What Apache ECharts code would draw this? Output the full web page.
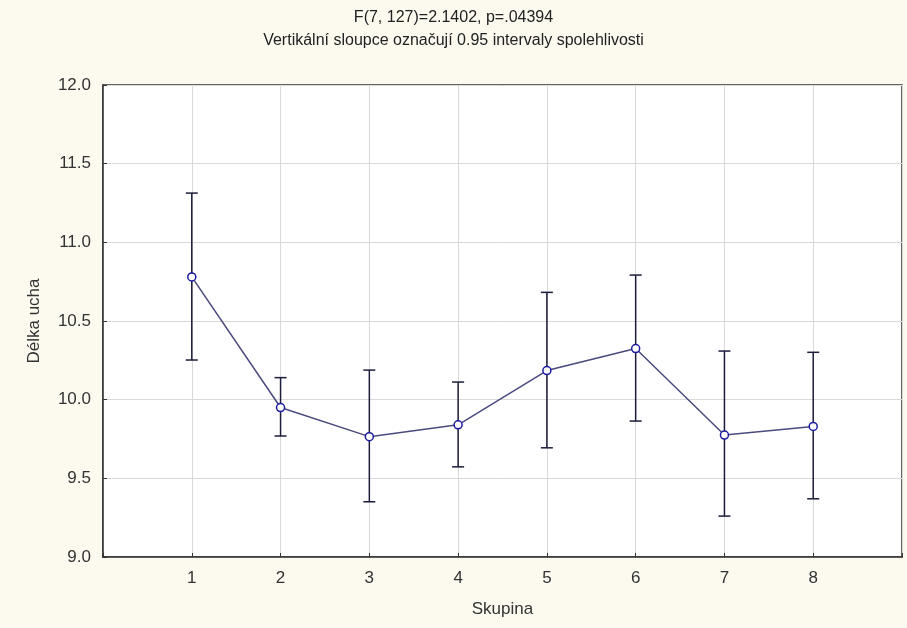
<!DOCTYPE html>
<html><head><meta charset="utf-8">
<script src="https://cdn.jsdelivr.net/npm/echarts@6/dist/echarts.min.js"></script>
<style>html,body{margin:0;padding:0;background:#fcf9ef}#c{width:907px;height:628px}</style>
</head><body><div id="c"></div>
<script>
const groups = [1, 2, 3, 4, 5, 6, 7, 8];
const means = [10.78, 9.95, 9.765, 9.84, 10.185, 10.325, 9.775, 9.83];
const upper = [11.313, 10.14, 10.188, 10.112, 10.682, 10.792, 10.309, 10.301];
const lower = [10.252, 9.769, 9.351, 9.573, 9.694, 9.864, 9.26, 9.37];
const yTicks = [9.0, 9.5, 10.0, 10.5, 11.0, 11.5, 12.0];

const chart = echarts.init(document.getElementById('c'));
const font = 'Liberation Sans, Arial, sans-serif';
chart.setOption({
  backgroundColor: '#fcf9ef',
  animation: false,
  title: [
    {text: 'F(7, 127)=2.1402, p=.04394', left: 'center', top: 5,
     textStyle: {fontFamily: font, fontSize: 16, fontWeight: 'normal', color: '#222'}},
    {text: 'Vertikální sloupce označují 0.95 intervaly spolehlivosti', left: 'center', top: 28,
     textStyle: {fontFamily: font, fontSize: 16, fontWeight: 'normal', color: '#222'}}
  ],
  grid: {left: 103, right: 5, top: 85, bottom: 71, show: true, backgroundColor: '#ffffff',
         borderColor: '#333', borderWidth: 1.5},
  xAxis: {
    type: 'value', min: 0, max: groups.length + 1, interval: 1,
    name: 'Skupina', nameLocation: 'middle', nameGap: 44,
    nameTextStyle: {fontFamily: font, fontSize: 17, color: '#333'},
    axisLine: {show: true, lineStyle: {color: '#333', width: 1.5}},
    axisTick: {show: true, inside: true, length: 4, lineStyle: {color: '#333'}},
    axisLabel: {fontFamily: font, fontSize: 17, color: '#333', margin: 13,
      formatter: v => groups.includes(v) ? String(v) : ''},
    splitLine: {show: true, lineStyle: {color: '#d9d9d9'}}
  },
  yAxis: {
    type: 'value', min: yTicks[0], max: yTicks[yTicks.length - 1], interval: 0.5,
    name: 'Délka ucha', nameLocation: 'middle', nameGap: 60,
    nameTextStyle: {fontFamily: font, fontSize: 17, color: '#333'},
    axisLine: {show: true, lineStyle: {color: '#333', width: 1.5}},
    axisTick: {show: true, inside: true, length: 4, lineStyle: {color: '#333'}},
    axisLabel: {fontFamily: font, fontSize: 17, color: '#333', margin: 12,
      formatter: v => v.toFixed(1)},
    splitLine: {show: true, lineStyle: {color: '#d9d9d9'}}
  },
  series: [
    {
      type: 'custom', z: 3,
      data: groups.map((g, i) => [g, lower[i], upper[i]]),
      renderItem: function (params, api) {
        const x = api.value(0);
        const lo = api.coord([x, api.value(1)]);
        const hi = api.coord([x, api.value(2)]);
        const w = 6;
        const style = {stroke: '#1c1c3c', lineWidth: 1.5};
        return {type: 'group', children: [
          {type: 'line', shape: {x1: lo[0], y1: lo[1], x2: hi[0], y2: hi[1]}, style},
          {type: 'line', shape: {x1: lo[0] - w, y1: lo[1], x2: lo[0] + w, y2: lo[1]}, style},
          {type: 'line', shape: {x1: hi[0] - w, y1: hi[1], x2: hi[0] + w, y2: hi[1]}, style}
        ]};
      }
    },
    {
      type: 'line', z: 4,
      data: groups.map((g, i) => [g, means[i]]),
      lineStyle: {color: '#4a4a7e', width: 1.5},
      symbol: 'circle', symbolSize: 8,
      itemStyle: {color: '#ffffff', borderColor: '#1a1aa0', borderWidth: 1.5}
    }
  ]
});
</script></body></html>
